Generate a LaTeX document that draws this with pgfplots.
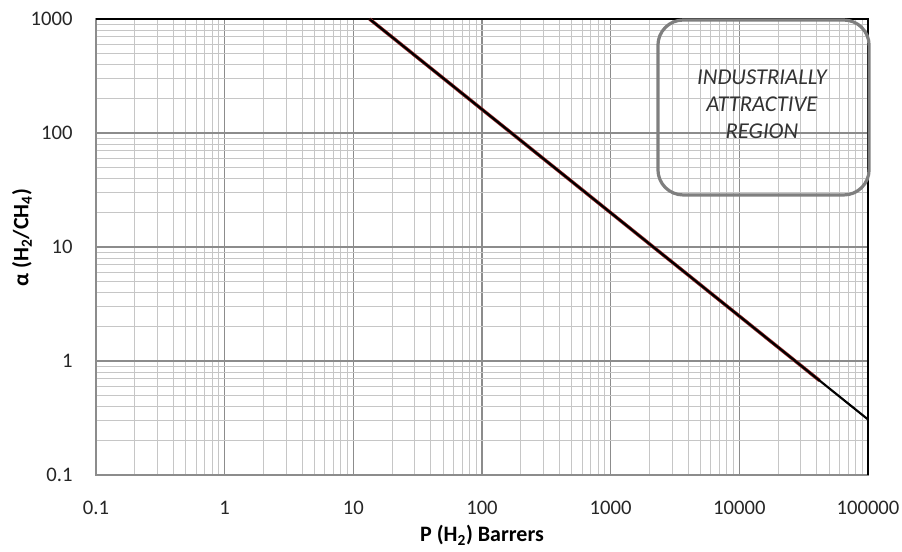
\documentclass[border=0pt]{standalone}
\usepackage{pgfplots}
\pgfplotsset{compat=1.18}
\usepackage{fontspec}
\setmainfont{Carlito}
\definecolor{majgrid}{HTML}{8C8C8C}
\definecolor{mingrid}{HTML}{C6C6C6}
\definecolor{boxgray}{HTML}{7F7F7F}
\definecolor{linered}{HTML}{9B2B2B}
\begin{document}
\begin{tikzpicture}
\useasboundingbox (-72pt,-57.75pt) rectangle (604.5pt,356.25pt);
\begin{axis}[
  at={(0pt,0pt)}, anchor=south west,
  scale only axis,
  width=579pt, height=342pt,
  xmode=log, ymode=log,
  xmin=0.1, xmax=100000, ymin=0.1, ymax=1000,
  xtick={0.1,1,10,100,1000,10000,100000},
  xticklabels={0.1,1,10,100,1000,10000,100000},
  ytick={0.1,1,10,100,1000},
  yticklabels={0.1,1,10,100,1000},
  minor xtick={0.2,0.3,0.4,0.5,0.6,0.7,0.8,0.9,
    2,3,4,5,6,7,8,9,20,30,40,50,60,70,80,90,
    200,300,400,500,600,700,800,900,2000,3000,4000,5000,6000,7000,8000,9000,
    20000,30000,40000,50000,60000,70000,80000,90000},
  minor ytick={0.2,0.3,0.4,0.5,0.6,0.7,0.8,0.9,
    2,3,4,5,6,7,8,9,20,30,40,50,60,70,80,90,
    200,300,400,500,600,700,800,900},
  grid=both,
  major grid style={draw=majgrid, line width=0.8pt},
  minor grid style={draw=mingrid, line width=0.75pt},
  axis line style={draw=majgrid, line width=0.8pt},
  major tick length=0pt, minor tick length=0pt,
  tick style={draw=none},
  /pgf/number format/assume math mode=true,
  ticklabel style={font=\fontsize{15.5}{17}\selectfont, text=black!85},
  xticklabel style={yshift=-16pt},
  yticklabel style={xshift=-14pt},
  xlabel={\textbf{P (H\textsubscript{2}) Barrers}},
  ylabel={\textbf{α (H\textsubscript{2}/CH\textsubscript{4})}},
  label style={font=\fontsize{16.5}{18}\selectfont},
  xlabel style={at={(axis description cs:0.5,-0.132)}, anchor=center},
  ylabel style={at={(axis description cs:-0.096,0.52)}, anchor=center},
  clip=false,
]
\draw[black, line width=1pt] (rel axis cs:0,1) -- (rel axis cs:1,1) -- (rel axis cs:1,0);
\addplot[linered, line width=2.6pt] coordinates {(13.36,1000) (42000,0.674)};
\addplot[black, line width=1.6pt] coordinates {(13.36,1000) (100000,0.307)};
\draw[boxgray, line width=2.4pt, rounded corners=19pt] (axis cs:2330,28.6) rectangle (axis cs:102000,980);
\node[align=center, font=\fontsize{17}{20}\selectfont\itshape, text=black!80] at (axis cs:14970,179) {INDUSTRIALLY\\ATTRACTIVE\\REGION};
\end{axis}
\end{tikzpicture}
\end{document}
